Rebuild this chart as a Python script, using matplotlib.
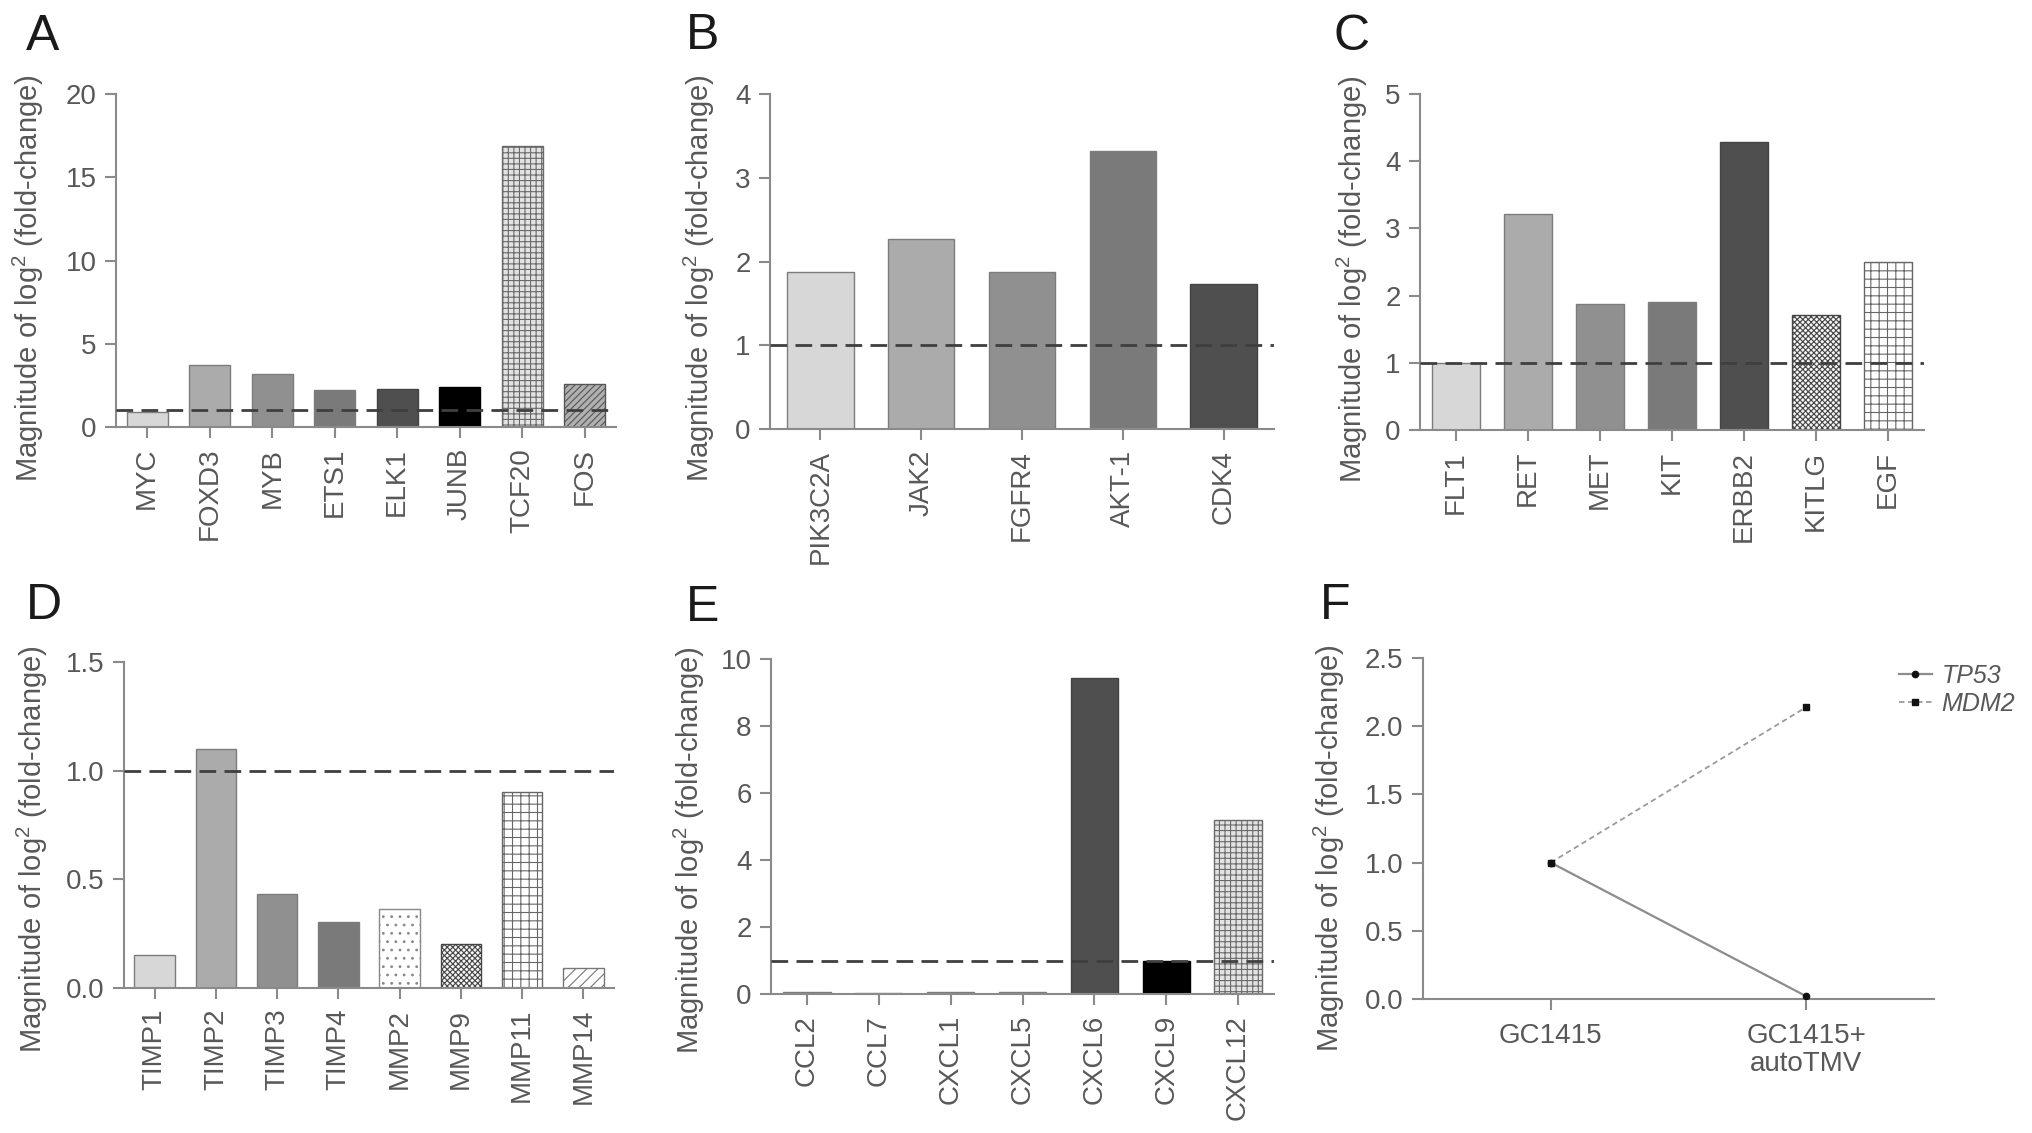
import matplotlib
matplotlib.use("Agg")
import matplotlib.pyplot as plt
import numpy as np

plt.rcParams["font.family"] = ["Liberation Sans", "DejaVu Sans"]
plt.rcParams["mathtext.fontset"] = "custom"
plt.rcParams["mathtext.rm"] = "Liberation Sans"
plt.rcParams["hatch.linewidth"] = 0.8

# ---- data ----
a_genes = ["MYC", "FOXD3", "MYB", "ETS1", "ELK1", "JUNB", "TCF20", "FOS"]
a_vals = [0.92, 3.7, 3.2, 2.2, 2.3, 2.43, 16.85, 2.56]

b_genes = ["PIK3C2A", "JAK2", "FGFR4", "AKT-1", "CDK4"]
b_vals = [1.88, 2.27, 1.88, 3.32, 1.73]

c_genes = ["FLT1", "RET", "MET", "KIT", "ERBB2", "KITLG", "EGF"]
c_vals = [1.0, 3.21, 1.87, 1.91, 4.29, 1.71, 2.5]

d_genes = ["TIMP1", "TIMP2", "TIMP3", "TIMP4", "MMP2", "MMP9", "MMP11", "MMP14"]
d_vals = [0.152, 1.10, 0.434, 0.302, 0.362, 0.204, 0.90, 0.09]

e_genes = ["CCL2", "CCL7", "CXCL1", "CXCL5", "CXCL6", "CXCL9", "CXCL12"]
e_vals = [0.05, 0.02, 0.05, 0.05, 9.44, 0.98, 5.19]

f_groups = ["GC1415", "GC1415+\nautoTMV"]
f_tp53 = [1.0, 0.02]
f_mdm2 = [1.0, 2.14]

# ---- bar styles: (face, edge, hatch) ----
L1, L2, L3, L4, L5 = "#d7d7d7", "#ababab", "#909090", "#7a7a7a", "#4f4f4f"
EDGE = "#7c7c7c"
a_styles = [(L1, EDGE, None), (L2, EDGE, None), (L3, EDGE, None), (L4, EDGE, None),
            (L5, "#444444", None), ("#000000", "#000000", None),
            ("#e2e2e2", "#6a6a6a", "+++"), ("#b0b0b0", "#555555", "/////")]
b_styles = [(L1, EDGE, None), (L2, EDGE, None), (L3, EDGE, None), (L4, EDGE, None),
            (L5, "#444444", None)]
c_styles = [(L1, EDGE, None), (L2, EDGE, None), (L3, EDGE, None), (L4, EDGE, None),
            (L5, "#444444", None), ("#f4f4f4", "#444444", "xxxxxx"),
            ("#ffffff", "#666666", "++")]
d_styles = [(L1, EDGE, None), (L2, EDGE, None), (L3, EDGE, None), (L4, EDGE, None),
            ("#ffffff", "#888888", ".."), ("#f4f4f4", "#444444", "xxxxxx"),
            ("#ffffff", "#666666", "++"), ("#ffffff", "#777777", "///")]
e_styles = [(L1, EDGE, None), (L2, EDGE, None), (L3, EDGE, None), (L4, EDGE, None),
            (L5, "#444444", None), ("#000000", "#000000", None),
            ("#e2e2e2", "#6a6a6a", "+++")]

W, H = 2032, 1133
fig = plt.figure(figsize=(W / 100, H / 100), dpi=100)
fig.patch.set_facecolor("white")

AX_C = "#8a8a8a"
TXT_C = "#585858"
YLABEL = r"Magnitude of log$^{\mathrm{2}}$ (fold-change)"


def px_rect(left, top, right, bottom):
    return [left / W, 1 - bottom / H, (right - left) / W, (bottom - top) / H]


def style_axes(ax, label_x, label_y):
    for s in ("top", "right"):
        ax.spines[s].set_visible(False)
    for s in ("left", "bottom"):
        ax.spines[s].set_color(AX_C)
        ax.spines[s].set_linewidth(1.5)
    ax.tick_params(colors=AX_C, labelcolor=TXT_C, length=8, width=1.5,
                   labelsize=20)
    ax.tick_params(axis="y", pad=6)
    ax.set_ylabel(YLABEL, fontsize=21, color=TXT_C)
    ax.yaxis.set_label_coords(label_x, label_y)


def bar_panel(rect, genes, vals, styles, ymax, ystep, fmt, label_x, label_y):
    ax = fig.add_axes(rect)
    x = np.arange(len(genes))
    for xi, v, (fc, ec, h) in zip(x, vals, styles):
        ax.bar(xi, v, width=0.66, color=fc, edgecolor=ec, hatch=h,
               linewidth=1.0, zorder=2)
    ax.axhline(1, color="#3f3f3f", lw=2.0, dashes=(6, 3), zorder=3)
    ax.set_xlim(-0.5, len(genes) - 0.5)
    ax.set_ylim(0, ymax)
    ticks = np.arange(0, ymax + ystep / 2, ystep)
    ax.set_yticks(ticks)
    ax.set_yticklabels([fmt.format(t) for t in ticks])
    ax.set_xticks(x)
    ax.set_xticklabels(genes, rotation=90)
    ax.tick_params(axis="x", pad=7)
    style_axes(ax, label_x, label_y)
    return ax


bar_panel(px_rect(116, 94, 616, 427), a_genes, a_vals, a_styles, 20, 5, "{:.0f}", -0.14, 0.447)
bar_panel(px_rect(770, 94, 1274, 429), b_genes, b_vals, b_styles, 4, 1, "{:.0f}", -0.105, 0.45)
bar_panel(px_rect(1420, 94, 1924, 430), c_genes, c_vals, c_styles, 5, 1, "{:.0f}", -0.099, 0.45)
bar_panel(px_rect(124, 662, 614, 988), d_genes, d_vals, d_styles, 1.5, 0.5, "{:.1f}", -0.151, 0.425)
bar_panel(px_rect(771, 659, 1274, 994), e_genes, e_vals, e_styles, 10, 2, "{:.0f}", -0.127, 0.431)

# ---- panel F: line plot ----
axf = fig.add_axes(px_rect(1423, 658, 1934, 999))
xf = np.arange(len(f_groups))
axf.plot(xf, f_tp53, color="#8c8c8c", lw=1.6, marker="o", ms=4.5,
         mfc="#111111", mec="#111111", label="TP53", zorder=3)
axf.plot(xf, f_mdm2, color="#9a9a9a", lw=1.3, ls=(0, (3, 2)), marker="s", ms=4.5,
         mfc="#111111", mec="#111111", label="MDM2", zorder=3)
axf.set_xlim(-0.5, 1.5)
axf.set_ylim(0, 2.5)
fticks = np.arange(0, 2.51, 0.5)
axf.set_yticks(fticks)
axf.set_yticklabels(["{:.1f}".format(t) for t in fticks])
axf.set_xticks(xf)
axf.set_xticklabels(f_groups, linespacing=1.1)
axf.tick_params(axis="x", pad=9)
style_axes(axf, -0.149, 0.443)
leg = axf.legend(loc="upper left", bbox_to_anchor=(1899 / W, 1 - 664 / H),
                 bbox_transform=fig.transFigure, frameon=False, fontsize=18,
                 handlelength=1.3, handletextpad=0.4, labelspacing=0.15,
                 borderpad=0, borderaxespad=0)
for t in leg.get_texts():
    t.set_color(TXT_C)
    t.set_fontstyle("italic")

# ---- panel letters ----
letters = [("A", 26, 50), ("B", 686, 49), ("C", 1333, 50),
           ("D", 26, 619), ("E", 686, 621), ("F", 1320, 619)]
for ch, lx, ly in letters:
    fig.text(lx / W, 1 - ly / H, ch, fontsize=36, color="#1a1a1a",
             ha="left", va="baseline")

fig.savefig("out.png", dpi=100, facecolor="white")
